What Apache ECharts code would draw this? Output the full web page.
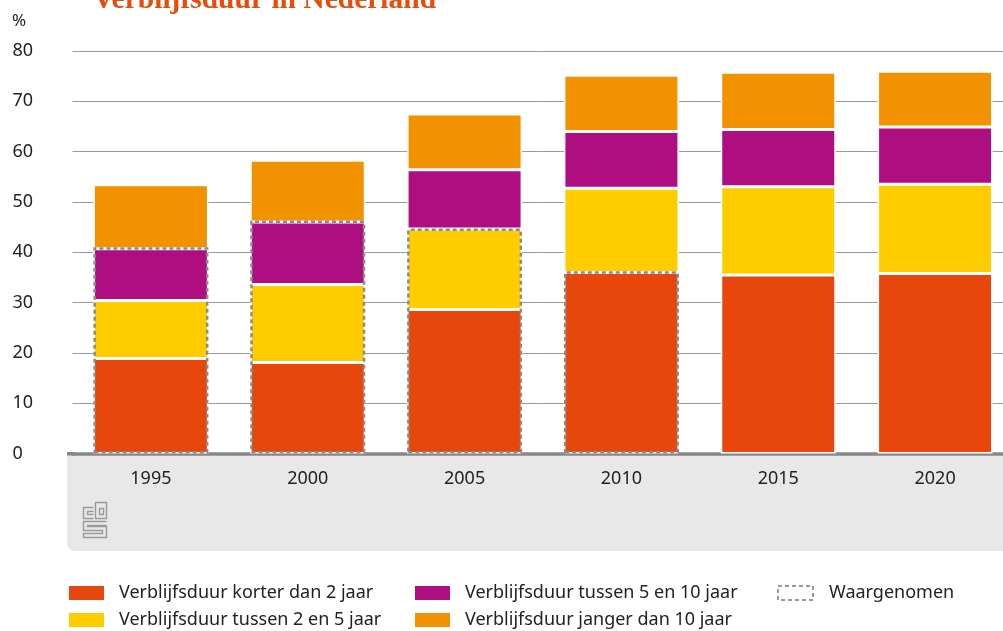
<!DOCTYPE html>
<html>
<head>
<meta charset="utf-8">
<script src="https://cdn.jsdelivr.net/npm/echarts@6/dist/echarts.min.js"></script>
<style>
  html, body { margin: 0; padding: 0; background: #fff; }
  #chart { width: 1003px; height: 631px; }
</style>
</head>
<body>
<div id="chart"></div>
<script>
// jaren
var years = ['1995', '2000', '2005', '2010', '2015', '2020'];
// aandelen per verblijfsduur (%)
var korter2 = [18.9, 18.1, 28.6, 36.0, 35.5, 35.8];
var tussen2en5 = [11.5, 15.5, 16.0, 16.7, 17.5, 17.7];
var tussen5en10 = [10.3, 12.4, 11.8, 11.3, 11.4, 11.4];
var langer10 = [12.7, 12.3, 11.1, 11.2, 11.4, 11.1];
// waargenomen deel (top van gestippeld kader)
var waargenomen = [41.0, 46.3, 44.7, 36.2, null, null];
var yTicks = [0, 10, 20, 30, 40, 50, 60, 70, 80];

var names = [
  'Verblijfsduur korter dan 2 jaar',
  'Verblijfsduur tussen 2 en 5 jaar',
  'Verblijfsduur tussen 5 en 10 jaar',
  'Verblijfsduur janger dan 10 jaar',
  'Waargenomen'
];
var colors = ['#e7470c', '#ffcc00', '#af0e80', '#f39200'];
var font = 'Noto Sans';

function stackSeries(name, data, color) {
  return {
    name: name,
    type: 'bar',
    stack: 'totaal',
    barWidth: 115,
    data: data,
    itemStyle: { color: color, borderColor: '#fff', borderWidth: 1.5 },
    z: 2
  };
}

// een legenda per item, zodat de kolommen vast liggen
function legendItem(name, left, top, extra) {
  var l = {
    left: left, top: top, padding: 0,
    icon: 'rect',
    itemWidth: 37, itemHeight: 16,
    data: [name],
    textStyle: { color: '#222', fontSize: 18, padding: [0, 0, 0, 9], fontFamily: font }
  };
  if (extra) l.data = [Object.assign({ name: name }, extra)];
  return l;
}

var chart = echarts.init(document.getElementById('chart'));
chart.setOption({
  animation: false,
  textStyle: { fontFamily: font },
  grid: { left: 72.5, top: 51, width: 941, height: 402.5, outerBoundsMode: 'none', containLabel: false },
  xAxis: {
    type: 'category',
    data: years,
    axisLine: { lineStyle: { color: '#888', width: 3.5 } },
    axisTick: { show: false },
    axisLabel: { color: '#222', fontSize: 18, margin: 16, fontFamily: font }
  },
  yAxis: {
    type: 'value',
    min: yTicks[0],
    max: yTicks[yTicks.length - 1],
    interval: 10,
    axisLine: { show: false },
    axisTick: { show: false },
    axisLabel: { color: '#222', fontSize: 18, align: 'left', margin: 60, fontFamily: font },
    splitLine: { lineStyle: { color: '#9a9a9a', width: 1 } }
  },
  legend: [
    legendItem(names[0], 67, 584),
    legendItem(names[1], 67, 611),
    legendItem(names[2], 413, 584),
    legendItem(names[3], 413, 611),
    Object.assign(legendItem(names[4], 777, 584, {
      itemStyle: { color: 'rgba(0,0,0,0)', borderColor: '#999', borderWidth: 2, borderType: [4, 3] }
    }), { itemWidth: 35, itemHeight: 14, textStyle: { color: '#222', fontSize: 18, padding: [0, 0, 0, 11], fontFamily: font } })
  ],
  graphic: [
    {
      type: 'rect', z: -10,
      shape: { x: 67, y: 454, width: 945, height: 97, r: [0, 0, 0, 8] },
      style: { fill: '#e8e8e8' }
    },
    {
      type: 'rect', z: -5,
      shape: { x: 67, y: 452, width: 8, height: 3.5 },
      style: { fill: '#888' }
    },
    {
      type: 'text', left: 93, top: -15,
      style: {
        text: 'Verblijfsduur in Nederland',
        fill: '#e94c0a',
        font: 'bold 29.5px "Liberation Serif", serif'
      }
    },
    {
      type: 'text', left: 12, top: 13,
      style: { text: '%', fill: '#222', font: '17px "Noto Sans"' }
    },
    // cbs logo
    {
      type: 'group', left: 81, top: 500,
      children: [
        { type: 'polyline', shape: { points: [[11, 6], [1, 6], [1, 17], [11, 17]] }, style: { stroke: '#9a9a9a', lineWidth: 1.4, fill: null } },
        { type: 'polyline', shape: { points: [[11, 10], [5, 10], [5, 13], [11, 13]] }, style: { stroke: '#9a9a9a', lineWidth: 1.4, fill: null } },
        { type: 'rect', shape: { x: 13, y: 1, width: 11, height: 16 }, style: { stroke: '#9a9a9a', lineWidth: 1.4, fill: null } },
        { type: 'rect', shape: { x: 17, y: 7, width: 4, height: 6 }, style: { stroke: '#9a9a9a', lineWidth: 1.4, fill: null } },
        { type: 'polyline', shape: { points: [[24, 20], [1, 20], [1, 29], [20, 29], [20, 32], [1, 32], [1, 36], [24, 36], [24, 25], [5, 25], [5, 24], [24, 24]] }, style: { stroke: '#9a9a9a', lineWidth: 1.4, fill: null } }
      ]
    }
  ],
  series: [
    stackSeries(names[0], korter2, colors[0]),
    stackSeries(names[1], tussen2en5, colors[1]),
    stackSeries(names[2], tussen5en10, colors[2]),
    stackSeries(names[3], langer10, colors[3]),
    {
      name: names[4],
      type: 'bar',
      barWidth: 115,
      barGap: '-100%',
      data: waargenomen,
      itemStyle: { color: 'rgba(0,0,0,0)', borderColor: '#8a8a8a', borderWidth: 2.5, borderType: [4, 3] },
      z: 5
    }
  ]
});
</script>
</body>
</html>
